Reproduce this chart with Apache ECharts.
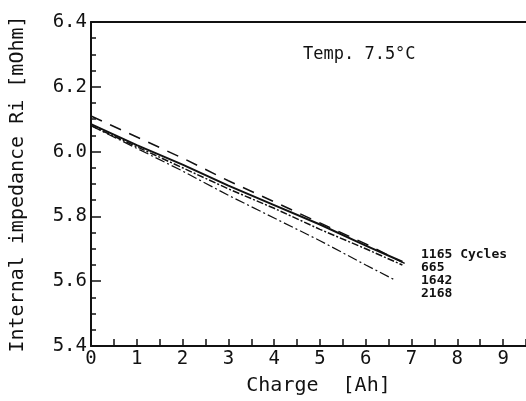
<!DOCTYPE html>
<html>
<head>
<meta charset="utf-8">
<script src="https://cdn.jsdelivr.net/npm/echarts@6/dist/echarts.min.js"></script>
<style>
  html, body { margin: 0; padding: 0; background: #fff; }
  #chart { width: 526px; height: 401px; }
</style>
</head>
<body>
<div id="chart"></div>
<script>
// charge [Ah] vs internal impedance [mOhm]
const chargeA = [0, 1, 2, 3, 4, 5, 6, 6.85]
const cycles1165 = [6.11, 6.045, 5.98, 5.91, 5.845, 5.78, 5.715, 5.655]
const chargeB = [0, 1, 2, 3, 4, 5, 6, 6.8]
const cycles665 = [6.085, 6.02, 5.96, 5.895, 5.835, 5.775, 5.71, 5.66]
const cycles1642 = [6.08, 6.015, 5.95, 5.885, 5.825, 5.76, 5.70, 5.65]
const chargeC = [0, 1, 2, 3, 4, 5, 6, 6.62]
const cycles2168 = [6.08, 6.01, 5.94, 5.865, 5.795, 5.725, 5.65, 5.605]
const legendLines = ['1165 Cycles', '665', '1642', '2168']

const font = 'DejaVu Sans Mono'
const ink = '#111'

const pairs = (xs, ys) => xs.map((x, i) => [x, ys[i]])

const lineSeries = (name, xs, ys, type, width) => ({
  name,
  type: 'line',
  data: pairs(xs, ys),
  symbol: 'none',
  silent: true,
  lineStyle: { color: ink, width, type }
})

const chart = echarts.init(document.getElementById('chart'))

chart.setOption({
  animation: false,
  backgroundColor: '#fff',
  grid: { left: 83, top: 22, right: -2, bottom: 51 },
  xAxis: [
    {
      type: 'value',
      min: 0, max: 9.5, interval: 1,
      name: 'Charge  [Ah]',
      nameLocation: 'middle',
      nameGap: 30,
      nameTextStyle: { fontFamily: font, fontSize: 20, color: ink, padding: [0, 0, 0, 20] },
      axisLine: { lineStyle: { color: ink, width: 2 } },
      axisTick: { inside: true, length: 7, lineStyle: { color: ink, width: 1.5 } },
      minorTick: { show: true, splitNumber: 2, length: 7, lineStyle: { color: ink, width: 1.5 } },
      splitLine: { show: false },
      axisLabel: {
        fontFamily: font, fontSize: 19, color: ink, margin: 4,
        showMaxLabel: false,
        formatter: v => (v % 1 === 0 ? String(v) : '')
      }
    },
    {
      // top frame line only
      type: 'value',
      position: 'top',
      min: 0, max: 9.5,
      axisLine: { lineStyle: { color: ink, width: 2 } },
      axisTick: { show: false },
      axisLabel: { show: false },
      splitLine: { show: false }
    }
  ],
  yAxis: {
    type: 'value',
    min: 5.4, max: 6.4, interval: 0.2,
    name: 'Internal impedance Ri [mOhm]',
    nameLocation: 'middle',
    nameRotate: 90,
    nameGap: 63,
    nameTextStyle: { fontFamily: font, fontSize: 20, color: ink },
    axisLine: { lineStyle: { color: ink, width: 2 } },
    axisTick: { inside: true, length: 10, lineStyle: { color: ink, width: 1.5 } },
    minorTick: { show: true, splitNumber: 4, length: 5, lineStyle: { color: ink, width: 1.5 } },
    splitLine: { show: false },
    axisLabel: {
      fontFamily: font, fontSize: 19, color: ink, margin: 4,
      formatter: v => v.toFixed(1)
    }
  },
  graphic: [
    {
      type: 'text', left: 303, top: 46,
      style: { text: 'Temp. 7.5°C', fontFamily: font, fontSize: 17, fill: ink }
    },
    {
      type: 'text', left: 421, top: 248,
      style: {
        text: legendLines.join('\n'),
        fontFamily: font, fontSize: 13, fontWeight: 'bold', lineHeight: 13, fill: ink
      }
    }
  ],
  series: [
    lineSeries('1165', chargeA, cycles1165, [12, 9], 1.5),
    lineSeries('665', chargeB, cycles665, 'solid', 2),
    lineSeries('1642', chargeB, cycles1642, [7, 2, 2, 2], 1.5),
    lineSeries('2168', chargeC, cycles2168, [10, 3, 2, 3], 1.2)
  ]
})
</script>
</body>
</html>
